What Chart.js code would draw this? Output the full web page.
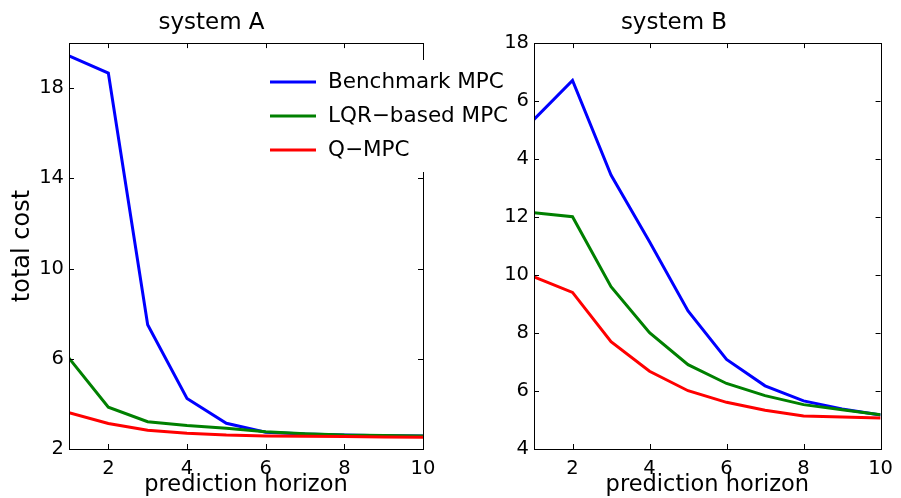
<!DOCTYPE html>
<html>
<head>
<meta charset="utf-8">
<script src="https://cdn.jsdelivr.net/npm/chart.js@4/dist/chart.umd.min.js"></script>
<style>
  body { margin: 0; background: #fff; }
  #wrap { position: relative; width: 901px; height: 498px; overflow: hidden; }
  #chartB { position: absolute; left: 460px; top: 0; z-index: 1; }
  #chartA { position: absolute; left: 0; top: 0; z-index: 2; }
</style>
</head>
<body>
<div id="wrap">
  <canvas id="chartB" width="441" height="498"></canvas>
  <canvas id="chartA" width="530" height="498"></canvas>
</div>
<script>
// prediction horizon (x values)
const horizon = [1, 2, 3, 4, 5, 6, 7, 8, 9, 10];
const xTicks = [2, 4, 6, 8, 10];

// system A
const sysABenchmark = [19.43, 18.67, 7.51, 4.24, 3.14, 2.74, 2.66, 2.62, 2.59, 2.58];
const sysALqr = [6.03, 3.85, 3.21, 3.04, 2.92, 2.76, 2.68, 2.62, 2.60, 2.58];
const sysAQmpc = [3.61, 3.13, 2.83, 2.70, 2.62, 2.58, 2.56, 2.55, 2.53, 2.52];
const sysAYTicks = [2, 6, 10, 14, 18];

// system B
const sysBBenchmark = [15.37, 16.71, 13.45, 11.15, 8.76, 7.09, 6.18, 5.66, 5.38, 5.17];
const sysBLqr = [12.15, 12.01, 9.60, 8.01, 6.91, 6.26, 5.84, 5.53, 5.35, 5.18];
const sysBQmpc = [9.94, 9.40, 7.70, 6.68, 6.01, 5.61, 5.34, 5.14, 5.10, 5.07];
const sysBYTicks = [4, 6, 8, 10, 12, 14, 16, 18];

const seriesNames = ['Benchmark MPC', 'LQR\u2212based MPC', 'Q\u2212MPC'];
const seriesColors = ['#0000ff', '#008000', '#ff0000'];

const FONT = 'DejaVu Sans';

function makeDatasets(series) {
    return series.map((values, i) => ({
        label: seriesNames[i],
        data: horizon.map((h, k) => ({ x: h, y: values[k] })),
        borderColor: seriesColors[i],
        backgroundColor: seriesColors[i],
        borderWidth: 3,
        pointRadius: 0,
        tension: 0,
        order: series.length - i   // last series drawn on top
    }));
}

// box around the plot + inward tick marks (matlab style)
const boxTicks = {
    id: 'boxTicks',
    afterDatasetsDraw(chart) {
        const { ctx, chartArea: a, scales } = chart;
        const len = 5;
        ctx.save();
        ctx.strokeStyle = '#000';
        ctx.lineWidth = 1;
        ctx.beginPath();
        scales.x.ticks.forEach(t => {
            const px = Math.round(scales.x.getPixelForValue(t.value)) + 0.5;
            ctx.moveTo(px, a.bottom); ctx.lineTo(px, a.bottom - len);
            ctx.moveTo(px, a.top); ctx.lineTo(px, a.top + len);
        });
        scales.y.ticks.forEach(t => {
            const py = Math.round(scales.y.getPixelForValue(t.value)) + 0.5;
            ctx.moveTo(a.left, py); ctx.lineTo(a.left + len, py);
            ctx.moveTo(a.right, py); ctx.lineTo(a.right - len, py);
        });
        ctx.stroke();
        ctx.strokeRect(Math.round(a.left) + 0.5, Math.round(a.top) + 0.5,
            Math.round(a.right - a.left), Math.round(a.bottom - a.top));
        ctx.restore();
    }
};

// legend box that sits over both panels
const floatLegend = {
    id: 'floatLegend',
    afterDraw(chart) {
        const ctx = chart.ctx;
        ctx.save();
        ctx.fillStyle = '#fff';
        ctx.fillRect(258, 60, 259, 112);
        ctx.font = '21.5px "' + FONT + '"';
        ctx.textBaseline = 'middle';
        ctx.textAlign = 'left';
        chart.data.datasets.forEach((ds, i) => {
            const y = 82 + i * 34;
            ctx.strokeStyle = ds.borderColor;
            ctx.lineWidth = 3;
            ctx.beginPath();
            ctx.moveTo(270, y);
            ctx.lineTo(316, y);
            ctx.stroke();
            ctx.fillStyle = '#000';
            ctx.fillText(ds.label, 328, y);
        });
        ctx.restore();
    }
};

function makeOptions(title, yMin, yMax, yTicks, yTitle, yWidth, padRight) {
    return {
        responsive: false,
        animation: false,
        devicePixelRatio: 1,
        layout: { padding: { left: 0, right: padRight, top: 0, bottom: 0 } },
        plugins: {
            legend: { display: false },
            tooltip: { enabled: false },
            title: {
                display: true,
                text: title,
                color: '#000',
                font: { family: FONT, size: 23, weight: 'normal' },
                padding: { top: 9, bottom: 6.5 }
            }
        },
        scales: {
            x: {
                type: 'linear',
                min: 1,
                max: 10,
                afterBuildTicks: s => { s.ticks = xTicks.map(v => ({ value: v })); },
                afterFit: s => { s.height = 49; },
                grid: { display: false, drawTicks: false },
                border: { display: false },
                ticks: {
                    color: '#000',
                    padding: 8,
                    maxRotation: 0,
                    font: { family: FONT, size: 19.5 }
                },
                title: {
                    display: true,
                    text: 'prediction horizon',
                    color: '#000',
                    font: { family: FONT, size: 22.5 },
                    padding: { top: 0, bottom: -1 }
                }
            },
            y: {
                type: 'linear',
                min: yMin,
                max: yMax,
                afterBuildTicks: s => { s.ticks = yTicks.map(v => ({ value: v })); },
                afterFit: s => { s.width = yWidth; },
                grid: { display: false, drawTicks: false },
                border: { display: false },
                ticks: {
                    color: '#000',
                    padding: 5,
                    font: { family: FONT, size: 19.5 }
                },
                title: {
                    display: yTitle !== '',
                    text: yTitle,
                    color: '#000',
                    font: { family: FONT, size: 24 },
                    padding: { top: 8, bottom: 0 }
                }
            }
        }
    };
}

new Chart(document.getElementById('chartB').getContext('2d'), {
    type: 'line',
    data: { datasets: makeDatasets([sysBBenchmark, sysBLqr, sysBQmpc]) },
    options: makeOptions('system B', 4, 18, sysBYTicks, '', 74, 13),
    plugins: [boxTicks]
});

new Chart(document.getElementById('chartA').getContext('2d'), {
    type: 'line',
    data: { datasets: makeDatasets([sysABenchmark, sysALqr, sysAQmpc]) },
    options: makeOptions('system A', 2, 20, sysAYTicks, 'total cost', 69, 107),
    plugins: [boxTicks, floatLegend]
});
</script>
</body>
</html>
